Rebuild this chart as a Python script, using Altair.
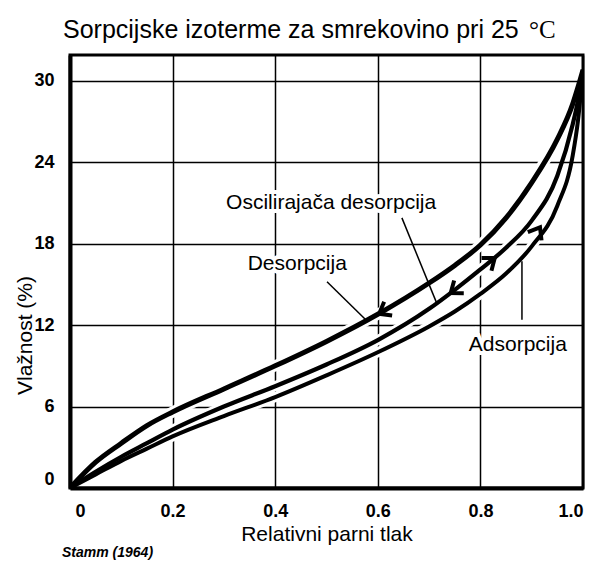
import altair as alt
import pandas as pd

# ---- data ----
rel_p = [0, 0.05, 0.1, 0.15, 0.2, 0.3, 0.4, 0.5, 0.6, 0.7, 0.75, 0.8, 0.85, 0.9, 0.95, 0.98, 0.99, 1.0]
desorpcija = [0, 1.9, 3.3, 4.6, 5.6, 7.3, 9.0, 10.8, 12.8, 15.1, 16.4, 17.9, 19.9, 22.5, 25.7, 28.3, 29.5, 30.8]
oscilirajuca = [0, 1.2, 2.3, 3.3, 4.3, 6.0, 7.5, 9.1, 10.9, 13.2, 14.6, 16.1, 17.7, 19.7, 23.0, 26.8, 28.5, 30.8]
adsorpcija = [0, 1.0, 2.0, 2.9, 3.8, 5.3, 6.7, 8.3, 10.0, 11.9, 13.0, 14.3, 15.8, 17.8, 20.8, 24.5, 27.0, 30.8]

# arrow heads on the curves (position + direction)
arrow_x = [0.608, 0.747, 0.823, 0.913]
arrow_y = [12.95, 14.5, 16.8, 19.0]
arrow_angle = [240, 233, 52, 31]

# label texts and positions
label_text = ["Oscilirajača desorpcija", "Desorpcija", "Adsorpcija"]
label_x = [0.509, 0.443, 0.873]
label_y = [21.0, 16.5, 10.5]

# leader lines
lead_x = [0.647, 0.501, 0.881]
lead_y = [19.9, 15.2, 12.4]
lead_x2 = [0.715, 0.579, 0.881]
lead_y2 = [13.6, 12.3, 16.7]

x_ticks = [0, 0.2, 0.4, 0.6, 0.8, 1.0]
y_ticks = [0, 6, 12, 18, 24, 30]

title_main = "Sorpcijske izoterme za smrekovino pri 25"
title_unit = "°C"

FONT = "Liberation Sans"

xs = alt.Scale(domain=[0, 1], nice=False, zero=False)
ys = alt.Scale(domain=[0, 31.9], nice=False, zero=False)

x_axis = alt.Axis(
    values=x_ticks, title="Relativni parni tlak",
    labelExpr="datum.value == 0 ? '0' : format(datum.value, '.1f')",
    labelFlush=False,
    labelAlign={"condition": [{"test": "datum.value == 1", "value": "right"},
                              {"test": "datum.value == 0", "value": "left"}],
                "value": "center"},
    labelOffset={"condition": {"test": "datum.value == 0", "value": 5}, "value": 0},
    labelPadding=14, titleY=35,
)
y_axis = alt.Axis(values=y_ticks, title="Vlažnost (%)", labelPadding=16,
                  labelFlush=True, titleX=-35, titleY=280)

def curve(vals, w, color, halo=False):
    df = pd.DataFrame({"p": rel_p, "v": vals})
    if halo:
        df = df[(df.p > 0.04) & (df.p < 0.97)]
    return alt.Chart(df).mark_line(color=color, strokeWidth=w,
                                   interpolate="monotone", clip=True).encode(
        x=alt.X("p:Q", scale=xs, axis=x_axis),
        y=alt.Y("v:Q", scale=ys, axis=y_axis),
    )

halos = [curve(desorpcija, 11, "white", True), curve(oscilirajuca, 10, "white", True),
         curve(adsorpcija, 10, "white", True)]
base_lines = [curve(desorpcija, 5, "black"), curve(oscilirajuca, 4.2, "black"),
              curve(adsorpcija, 4, "black")]

arrows_df = pd.DataFrame({"x": arrow_x, "y": arrow_y, "a": arrow_angle})
arrows = alt.Chart(arrows_df).mark_point(
    shape="M-1,0.9L0,-0.4L1,0.9", filled=False, stroke="black",
    strokeWidth=4, size=256, opacity=1, strokeJoin="miter"
).encode(
    x=alt.X("x:Q", scale=xs), y=alt.Y("y:Q", scale=ys),
    angle=alt.Angle("a:Q", scale=None),
)

lead_df = pd.DataFrame({"x": lead_x, "y": lead_y, "x2": lead_x2, "y2": lead_y2})
leaders = alt.Chart(lead_df).mark_rule(color="black", strokeWidth=1.5).encode(
    x=alt.X("x:Q", scale=xs), y=alt.Y("y:Q", scale=ys),
    x2="x2:Q", y2="y2:Q",
)

lab_df = pd.DataFrame({"t": label_text, "x": label_x, "y": label_y})
labels_halo = alt.Chart(lab_df).mark_text(
    font=FONT, fontSize=21, color="white", stroke="white", strokeWidth=8,
    align="center", baseline="middle").encode(
    x=alt.X("x:Q", scale=xs), y=alt.Y("y:Q", scale=ys), text="t:N",
)
labels = alt.Chart(lab_df).mark_text(font=FONT, fontSize=21, color="black",
                                     align="center", baseline="middle").encode(
    x=alt.X("x:Q", scale=xs), y=alt.Y("y:Q", scale=ys), text="t:N",
)

title_txt = alt.Chart(pd.DataFrame({"t": [title_main]})).mark_text(
    font=FONT, fontSize=25, align="left", baseline="alphabetic", color="black"
).encode(x=alt.value(-7), y=alt.value(-17), text="t:N")

unit = alt.Chart(pd.DataFrame({"t": [title_unit]})).mark_text(
    font="Liberation Serif", fontSize=25, align="left", baseline="alphabetic",
    color="black"
).encode(x=alt.value(459), y=alt.value(-17), text="t:N")

foot = alt.Chart(pd.DataFrame({"t": ["Stamm (1964)"]})).mark_text(
    font=FONT, fontSize=14, fontWeight="bold", fontStyle="italic",
    align="left", baseline="middle", color="black"
).encode(x=alt.value(-8), y=alt.value(498), text="t:N")

chart = alt.layer(*halos, labels_halo, *base_lines, arrows, leaders, labels,
                  title_txt, unit, foot).properties(
    width=513, height=433,
    autosize=alt.AutoSizeParams(type="none"),
    padding={"left": 62, "top": 47, "right": 3, "bottom": 76},
).configure_view(
    stroke="black", strokeWidth=3
).configure_axis(
    grid=True, gridColor="black", gridWidth=1.5, gridOpacity=1,
    domainColor="black", domainWidth=4, ticks=False,
    labelFont=FONT, labelFontSize=18, labelFontWeight="bold", labelColor="black",
    titleFont=FONT, titleFontSize=21, titleFontWeight="normal", titleColor="black",
)

chart.save("out.html", embed_options={"renderer": "svg", "actions": False})
